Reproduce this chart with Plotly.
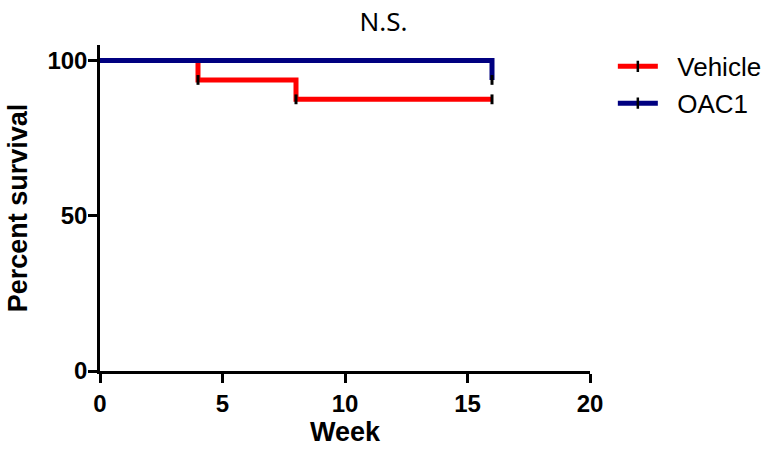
import plotly.graph_objects as go

# Data
weeks_vehicle = [0, 4, 8, 16]
surv_vehicle = [100, 93.75, 87.5, 87.5]
censor_vehicle_x = [4, 8, 16]
censor_vehicle_y = [93.75, 87.5, 87.5]

weeks_oac1 = [0, 16, 16]
surv_oac1 = [100, 100, 93.75]
censor_oac1_x = [16]
censor_oac1_y = [93.75]

series_names = ["Vehicle", "OAC1"]
colors = ["#ff0000", "#000080"]
x_ticks = [0, 5, 10, 15, 20]
y_ticks = [0, 50, 100]

fig = go.Figure()

fig.add_trace(go.Scatter(x=weeks_vehicle, y=surv_vehicle, mode="lines",
                         line=dict(color=colors[0], width=5, shape="hv"),
                         showlegend=False))
fig.add_trace(go.Scatter(x=weeks_oac1, y=surv_oac1, mode="lines",
                         line=dict(color=colors[1], width=5, shape="hv"),
                         showlegend=False))
fig.add_trace(go.Scatter(x=censor_vehicle_x + censor_oac1_x,
                         y=censor_vehicle_y + censor_oac1_y, mode="markers",
                         marker=dict(symbol="line-ns", size=7,
                                     line=dict(color="black", width=3)),
                         showlegend=False))

for name, c in zip(series_names, colors):
    fig.add_trace(go.Scatter(x=[None], y=[None], mode="lines+markers",
                             name="\u00a0\u00a0" + name,
                             line=dict(color=c, width=5),
                             marker=dict(symbol="line-ns", size=8,
                                         line=dict(color="black", width=2.5))))

axis_font = dict(family="Arial", size=27, color="black", weight="bold")
tick_font = dict(family="Arial", size=24, color="black", weight="bold")
fig.update_layout(
    width=767, height=452,
    margin=dict(l=100, r=177, t=45, b=81, autoexpand=False),
    plot_bgcolor="white", paper_bgcolor="white",
    title=dict(text="N.S.", x=0.5, xanchor="center", y=0.951, yanchor="middle",
               font=dict(family="Noto Sans", size=26, color="black")),
    xaxis=dict(range=[0, 20], tickvals=x_ticks, showgrid=False, zeroline=False,
               showline=True, linecolor="black", linewidth=2.5,
               ticks="outside", ticklen=9, tickwidth=2.5, tickcolor="black",
               tickfont=tick_font,
               title=dict(text="Week", font=axis_font, standoff=2)),
    yaxis=dict(range=[0, 105], tickvals=y_ticks, showgrid=False, zeroline=False,
               showline=True, linecolor="black", linewidth=2.5,
               ticks="outside", ticklen=9, tickwidth=2.5, tickcolor="black",
               tickfont=tick_font, ticklabelstandoff=-4,
               title=dict(text="Percent survival", font=axis_font, standoff=12)),
    legend=dict(xref="container", yref="container", x=0.799, y=0.905,
                xanchor="left", yanchor="top",
                font=dict(family="Arial", size=26, color="black"),
                itemwidth=40, tracegroupgap=0, bgcolor="rgba(0,0,0,0)"),
)

fig.write_html("out.html")
